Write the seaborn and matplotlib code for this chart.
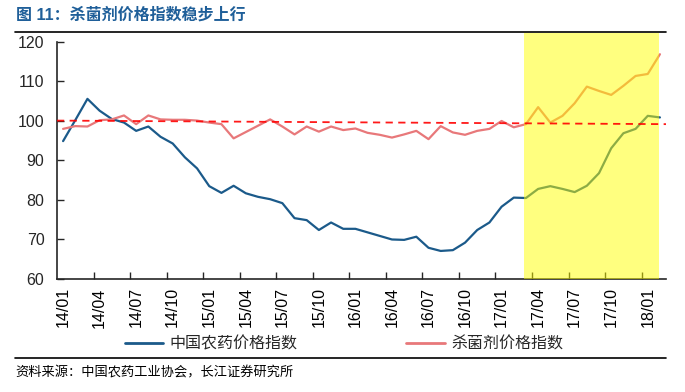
import numpy as np
import pandas as pd
import matplotlib
matplotlib.use("Agg")
import matplotlib.pyplot as plt
import seaborn as sns
from matplotlib.patches import Rectangle
from matplotlib.lines import Line2D

# months 14/01 .. 18/02
months = [f"{y:02d}/{m:02d}" for y in range(14, 19) for m in range(1, 13)][:50]

pesticide_idx = [94.9, 100.2, 105.6, 102.6, 100.5, 99.6, 97.5, 98.6, 96.0, 94.3,
                 90.8, 88.0, 83.5, 81.8, 83.6, 81.7, 80.8, 80.2, 79.2, 75.4,
                 74.9, 72.4, 74.3, 72.7, 72.7, 71.8, 70.9, 70.0, 69.9, 70.7,
                 67.9, 67.1, 67.3, 69.2, 72.4, 74.3, 78.3, 80.6, 80.5, 82.8,
                 83.5, 82.8, 82.0, 83.6, 86.8, 93.1, 96.9, 98.0, 101.3, 100.9]
fungicide_idx = [98.0, 98.7, 98.6, 100.2, 100.4, 101.4, 99.2, 101.4, 100.4, 100.3,
                 100.3, 100.1, 99.6, 99.2, 95.6, 97.2, 98.8, 100.4, 98.6, 96.6,
                 98.6, 97.3, 98.6, 97.7, 98.1, 97.0, 96.5, 95.8, 96.6, 97.5,
                 95.4, 98.7, 97.1, 96.5, 97.5, 98.0, 100.0, 98.4, 99.2, 103.5,
                 99.6, 101.3, 104.5, 108.7, 107.6, 106.6, 108.9, 111.4, 111.9, 116.9]

series_names = ["中国农药价格指数", "杀菌剂价格指数"]
ref_y = [100.1, 99.2]          # dashed guide line, start / end
highlight_from = "17/03"

BLUE = "#1B5A8A"
PINK = "#E8787A"

sns.set_style("ticks")
plt.rcParams["font.family"] = ["Liberation Sans", "Noto Sans CJK SC", "DejaVu Sans"]

df = pd.DataFrame({
    "idx": list(range(len(months))) * 2,
    "value": pesticide_idx + fungicide_idx,
    "series": [series_names[0]] * len(months) + [series_names[1]] * len(months),
})

fig = plt.figure(figsize=(6.85, 3.92), dpi=100)
ax = fig.add_axes([0.0832, 0.2883, 0.8891, 0.6046])

sns.lineplot(data=df, x="idx", y="value", hue="series",
             palette={series_names[0]: BLUE, series_names[1]: PINK},
             linewidth=1.6, legend=False, ax=ax, zorder=3)

n = len(months)
ax.set_xlim(-0.5, n - 0.5)
ax.set_ylim(60, 120)
ax.set_yticks(range(60, 121, 10))
ax.set_xticks(range(0, n, 3))
ax.set_xticklabels(months[0::3], rotation=90)
ax.set_xticks(np.arange(2.5, n - 1, 3), minor=True)
ax.tick_params(axis="x", which="major", length=0, labelsize=11.5, pad=6, colors="black")
ax.tick_params(axis="x", which="minor", direction="in", length=5, width=1)
ax.tick_params(axis="y", direction="in", length=5, width=1, labelsize=11.5, pad=9)
ax.set_xlabel("")
ax.set_ylabel("")
for s in ["top", "right"]:
    ax.spines[s].set_visible(False)
for s in ["left", "bottom"]:
    ax.spines[s].set_linewidth(1.2)

# yellow highlight over the latest months
x0 = months.index(highlight_from)
ax.add_patch(Rectangle((x0 - 0.15, 60), n - 0.9 - x0, 62.2, facecolor="#FFFF00",
                       alpha=0.5, edgecolor="none", zorder=4, clip_on=False))

# dashed reference line
ax.plot([-0.5, n - 0.5], ref_y, color="#FF0000", linestyle=(0, (4, 3)),
        linewidth=1.3, alpha=0.9, zorder=5)

handles = [Line2D([], [], color=BLUE, linewidth=2),
           Line2D([], [], color=PINK, linewidth=2)]
fig.legend(handles, series_names, loc="center", bbox_to_anchor=(0.502, 0.122),
           ncol=2, frameon=False, fontsize=11.5, handlelength=2.4,
           handletextpad=0.4, columnspacing=6.8)

fig.text(0.023, 0.962, "图 11：杀菌剂价格指数稳步上行", color="#1F5F99",
         fontsize=11.5, fontweight="bold", va="center", ha="left")
fig.add_artist(Line2D([0.022, 0.972], [0.918, 0.918], color="black", linewidth=1.2))
fig.add_artist(Line2D([0.022, 0.972], [0.087, 0.087], color="black", linewidth=1.2))
fig.text(0.023, 0.048, "资料来源：中国农药工业协会，长江证券研究所", color="black",
         fontsize=9.5, va="center", ha="left")

fig.savefig("out.png", dpi=100)
